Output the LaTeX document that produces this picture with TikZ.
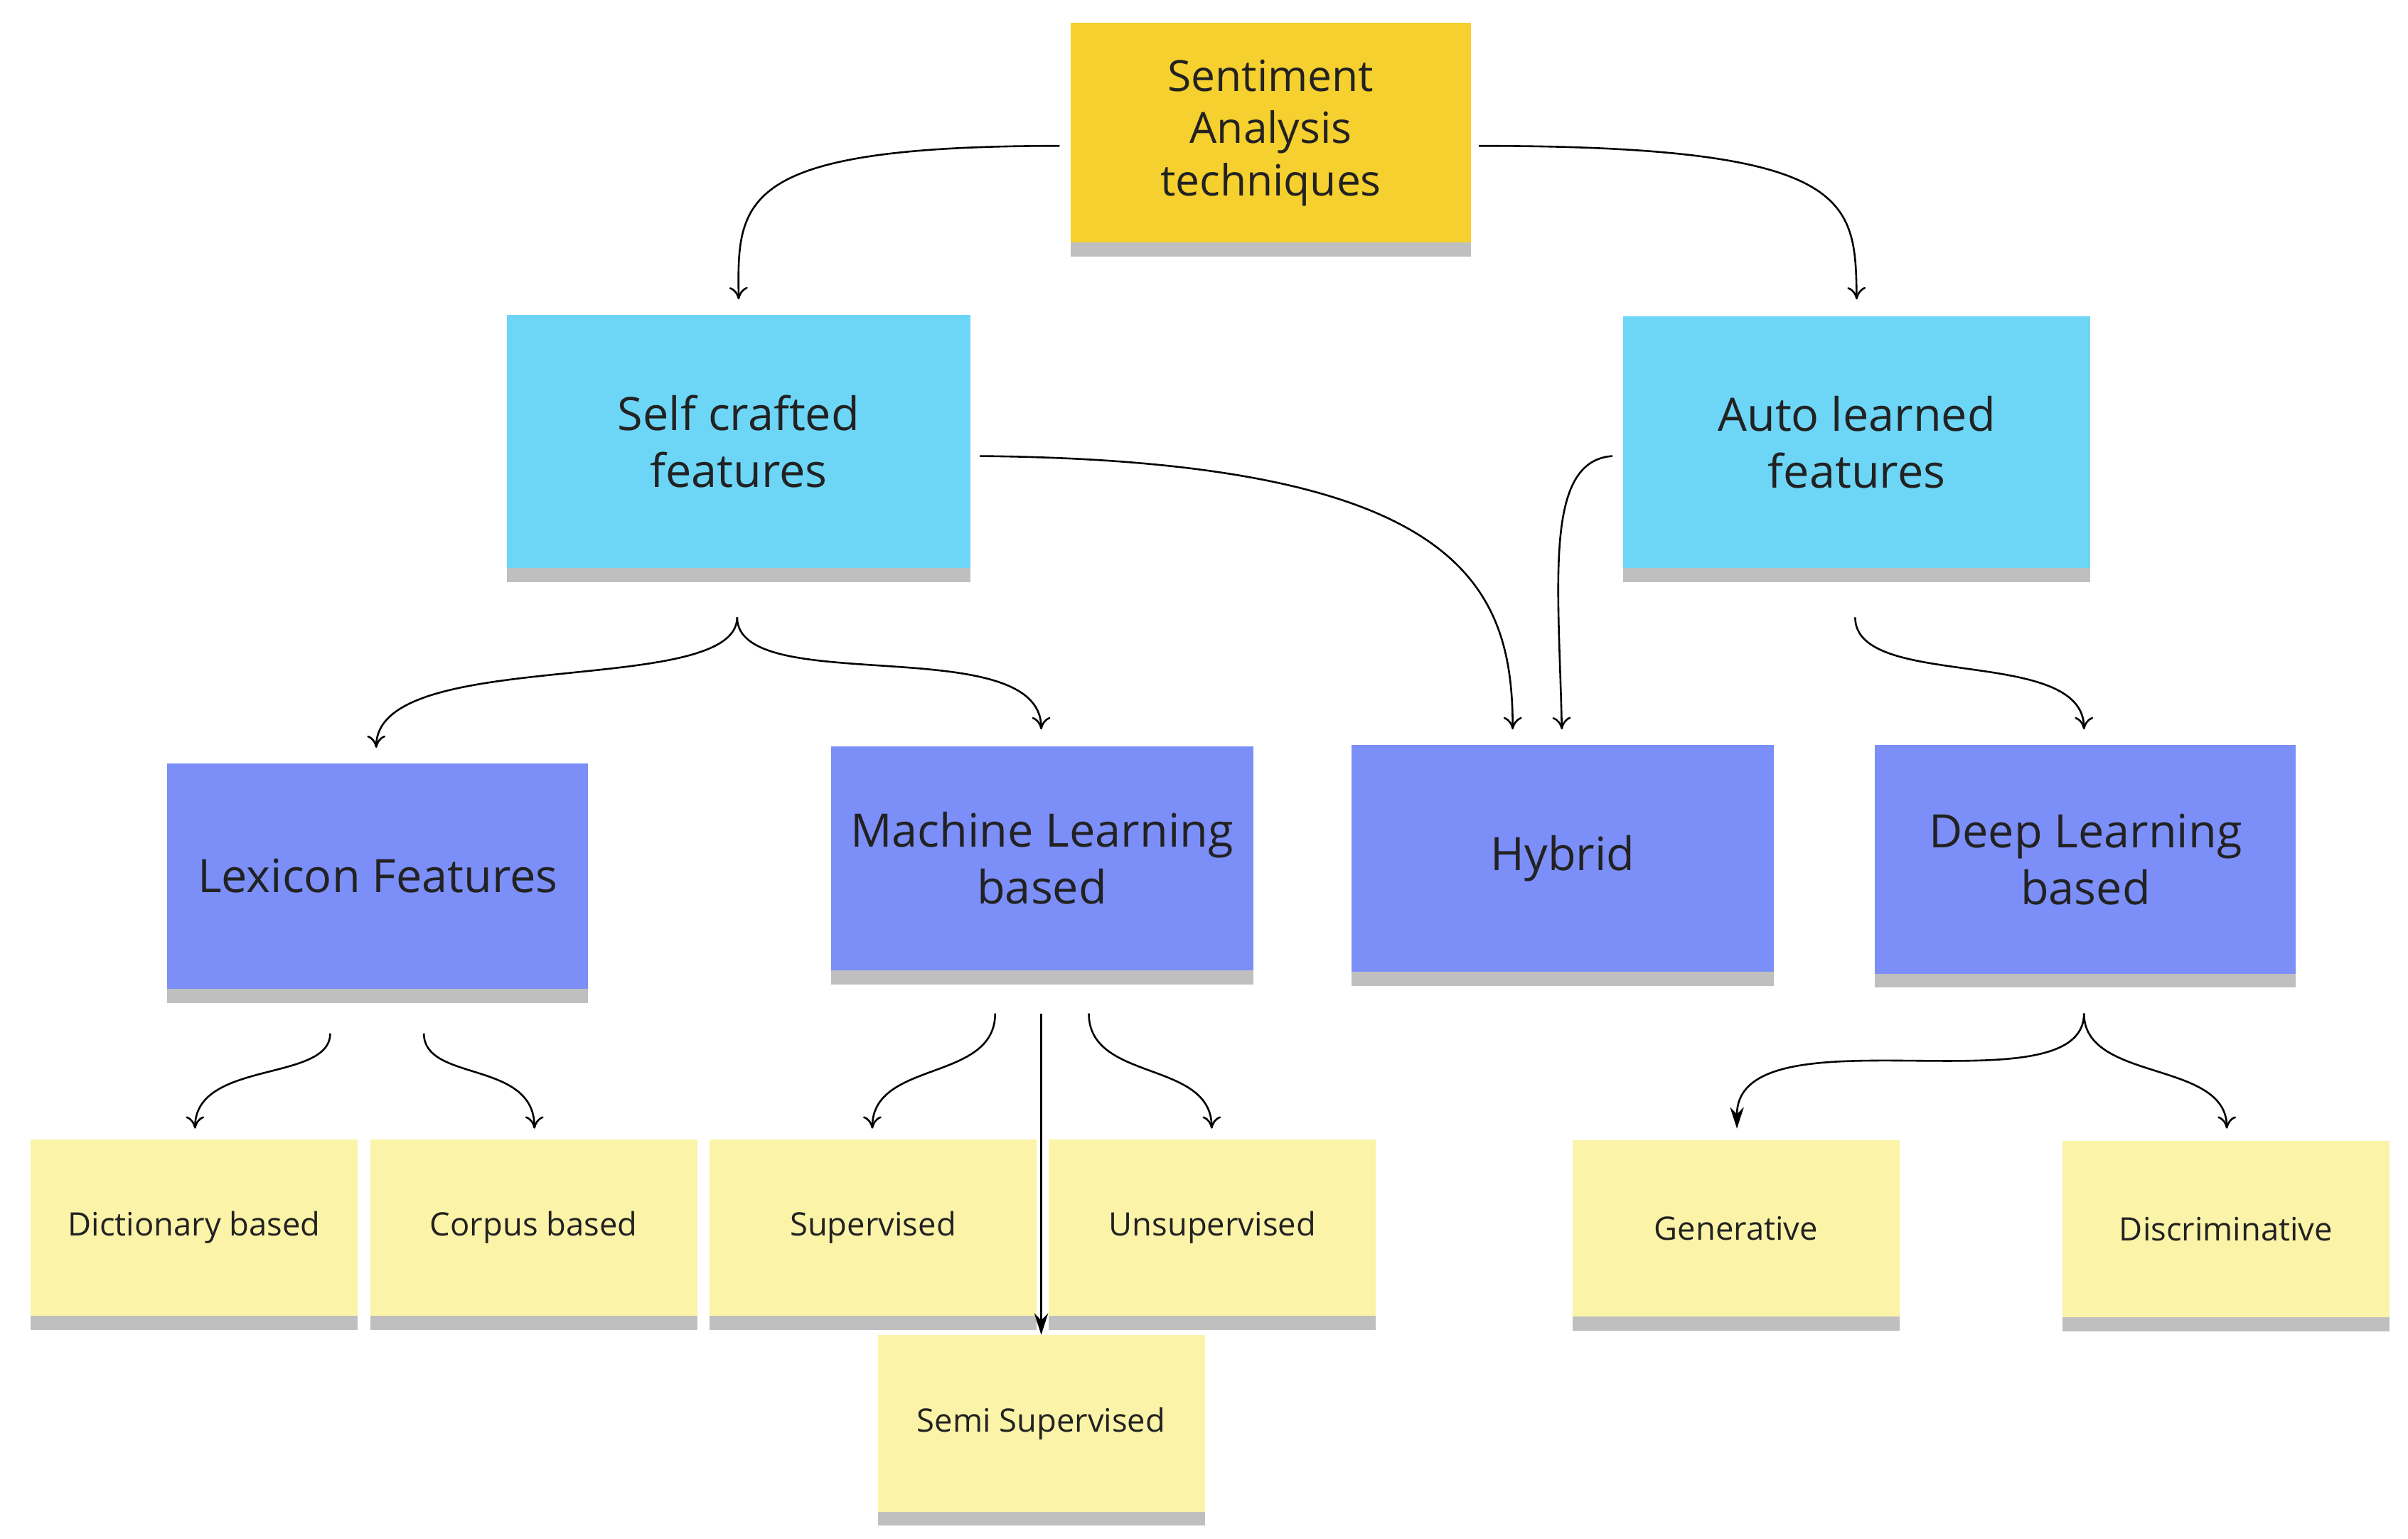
\documentclass[tikz,border=0pt]{standalone}
\usepackage{fontspec}
\setmainfont{Open Sans}
\usetikzlibrary{shadows,arrows.meta}
\definecolor{topy}{HTML}{F5D02E}
\definecolor{cyanb}{HTML}{6DD6F7}
\definecolor{blueb}{HTML}{7C8FF8}
\definecolor{leafy}{HTML}{FBF3A8}
\definecolor{txt}{HTML}{222222}
\tikzset{
 note/.style={draw=none,align=center,text=txt,inner sep=0pt,
   drop shadow={shadow xshift=0pt,shadow yshift=-9pt,opacity=0.25,fill=black}},
 big/.style={note,font=\fontsize{30}{37}\selectfont},
 leaf/.style={note,fill=leafy,minimum width=213pt,minimum height=115pt,font=\fontsize{21}{26}\selectfont},
 con/.style={draw=black,line width=1.2pt,-{To[length=8pt,width=12pt]}},
 conf/.style={draw=black,line width=1.2pt,-{Stealth[length=14pt,width=9pt]}}
}
\begin{document}
\begin{tikzpicture}[x=1pt,y=-1pt]
\useasboundingbox (0,0) rectangle (1568,1002);
\node[big,fill=topy,minimum width=261pt,minimum height=143pt,font=\fontsize{28}{34}\selectfont] (top) at (827.5,86.5) {Sentiment\\Analysis\\techniques};
\node[big,fill=cyanb,minimum width=302pt,minimum height=165pt] (self) at (481,287.5) {Self crafted\\features};
\node[big,fill=cyanb,minimum width=304pt,minimum height=164pt] (auto) at (1209,288) {Auto learned\\features};
\node[big,fill=blueb,minimum width=274pt,minimum height=147pt] (lex) at (246,570.5) {Lexicon Features};
\node[big,fill=blueb,minimum width=275pt,minimum height=146pt] (ml) at (678.5,559) {Machine Learning\\based};
\node[big,fill=blueb,minimum width=275pt,minimum height=148pt] (hyb) at (1017.5,559) {Hybrid};
\node[big,fill=blueb,minimum width=274pt,minimum height=149pt] (deep) at (1358,559.5) {Deep Learning\\based};
\node[leaf] (dict) at (126.5,799.5) {Dictionary based};
\node[leaf] (corp) at (347.5,799.5) {Corpus based};
\node[leaf] (sup) at (568.5,799.5) {Supervised};
\node[leaf] (uns) at (789.5,799.5) {Unsupervised};
\node[leaf] (semi) at (678,927) {Semi Supervised};
\node[leaf] (gen) at (1130.5,800) {Generative};
\node[leaf] (disc) at (1449.5,800.5) {Discriminative};
% coordinates
\coordinate (tl) at (690,95);
\coordinate (tr) at (963,95);
\coordinate (sr) at (638,297);
\coordinate (al) at (1050,297);
\coordinate (sb) at (480,402);
\coordinate (ab) at (1208,402);
\coordinate (lb1) at (215,673);
\coordinate (lb2) at (276,673);
\coordinate (mb1) at (648,660);
\coordinate (mb2) at (678,660);
\coordinate (mb3) at (709,660);
\coordinate (db) at (1357,660);
\draw[con] (tl) .. controls (480,95) and (480,130) .. (self.north |- 0,195);
\draw[con] (tr) .. controls (1208,95) and (1208,130) .. (auto.north |- 0,195);
\draw[con] (sr) .. controls (950,300) and (985,380) .. (985,475);
\draw[con] (al) .. controls (1005,300) and (1015,380) .. (1017,475);
\draw[con] (sb) .. controls (480,455) and (245,420) .. (245,487);
\draw[con] (sb) .. controls (480,455) and (678,410) .. (678,475);
\draw[con] (ab) .. controls (1208,450) and (1357,420) .. (1357,475);
\draw[con] (lb1) .. controls (215,705) and (127,690) .. (127,735);
\draw[con] (lb2) .. controls (276,705) and (348,690) .. (348,735);
\draw[con] (mb1) .. controls (648,705) and (568,690) .. (568,735);
\draw[conf] (mb2) -- (semi.north);
\draw[con] (mb3) .. controls (709,705) and (789,690) .. (789,735);
\draw[conf] (db) .. controls (1357,725) and (1131,655) .. (1131,735);
\draw[con] (db) .. controls (1357,705) and (1450,690) .. (1450,735);
\end{tikzpicture}
\end{document}
